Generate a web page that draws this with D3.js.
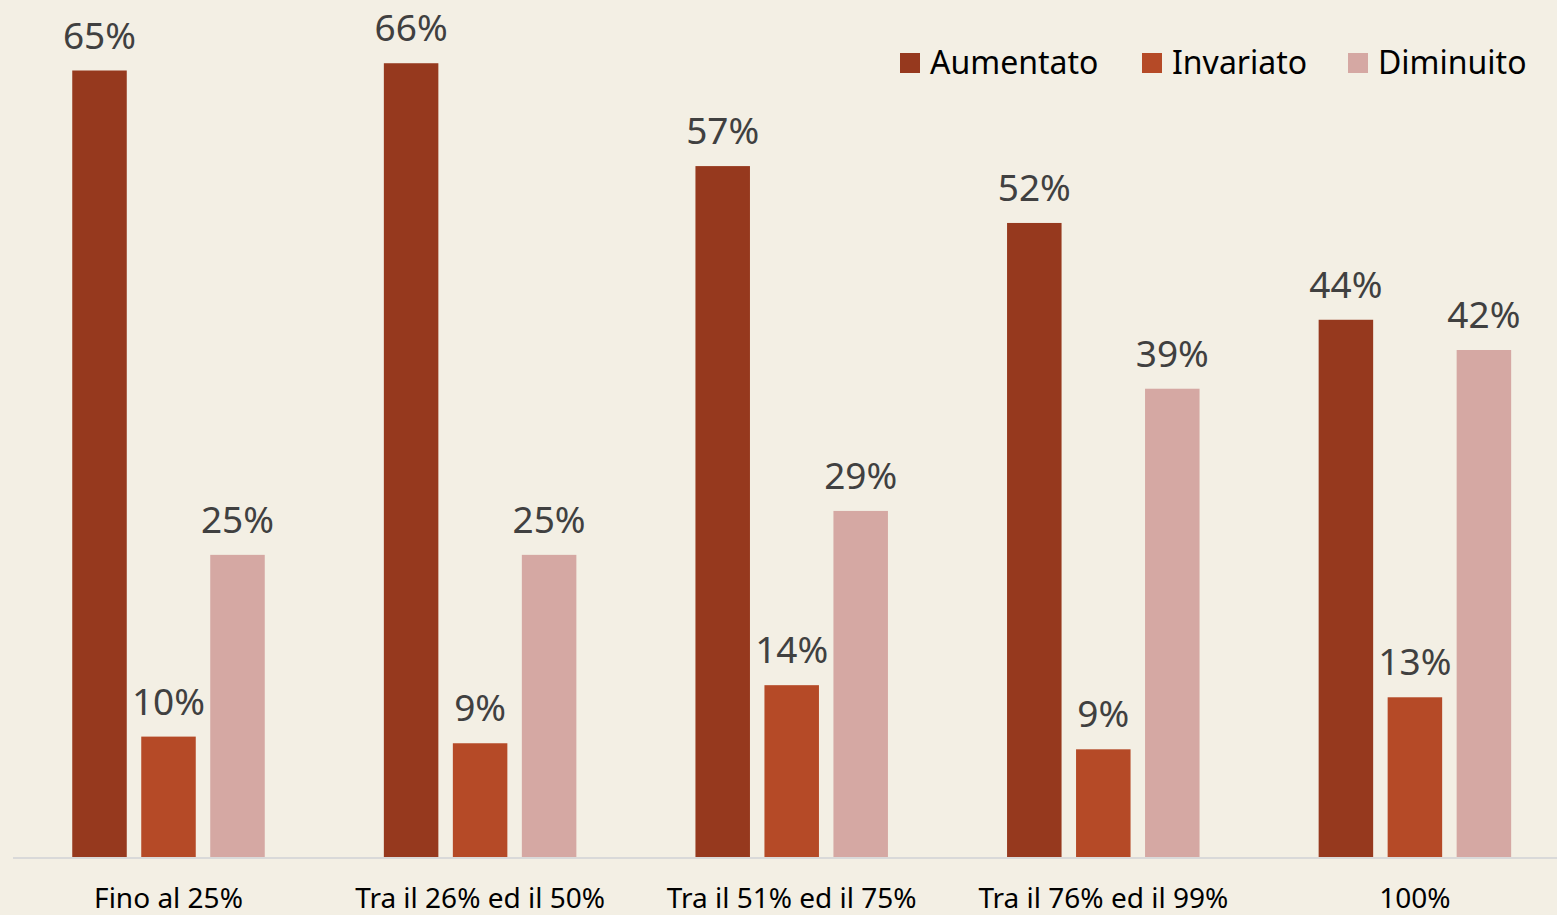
<!DOCTYPE html>
<html>
<head>
<meta charset="utf-8">
<script src="https://cdn.jsdelivr.net/npm/d3@7"></script>
<style>
  html, body { margin: 0; padding: 0; background: #f3efe4; }
  svg { display: block; font-family: "Noto Sans", sans-serif; }
</style>
</head>
<body>
<svg id="chart" width="1557" height="915"></svg>
<script>
let categories = ["Fino al 25%", "Tra il 26% ed il 50%", "Tra il 51% ed il 75%", "Tra il 76% ed il 99%", "100%"];
let seriesNames = ["Aumentato", "Invariato", "Diminuito"];
let colors = ["#96391e", "#b54a27", "#d5a8a3"];

let aumentato = [65.0, 65.6, 57.1, 52.4, 44.4];
let invariato = [9.95, 9.4, 14.2, 8.9, 13.2];
let diminuito = [24.97, 24.97, 28.6, 38.7, 41.9];

let seriesValues = [aumentato, invariato, diminuito];

function init() {
    const svg = d3.select("#chart");
    const baseY = 857;

    const x0 = d3.scaleBand().domain(categories).range([12.7, 1570.7]);
    const x1 = d3.scaleBand().domain(seriesNames).range([-96.25, 96.25]).paddingInner(0.21).paddingOuter(0);
    const y = d3.scaleLinear().domain([0, 70]).range([baseY, baseY - 70 * 12.1]);
    const color = d3.scaleOrdinal().domain(seriesNames).range(colors);

    let rows = [];
    categories.forEach((c, i) => {
        seriesNames.forEach((s, j) => {
            rows.push({cat: c, series: s, value: seriesValues[j][i]});
        });
    });

    const g = svg.append("g");

    g.selectAll("rect.bar")
        .data(rows)
        .enter()
        .append("rect")
        .attr("class", "bar")
        .attr("x", d => x0(d.cat) + x0.bandwidth() / 2 + x1(d.series))
        .attr("width", x1.bandwidth())
        .attr("y", d => y(d.value))
        .attr("height", d => baseY - y(d.value))
        .attr("fill", d => color(d.series));

    g.selectAll("text.val")
        .data(rows)
        .enter()
        .append("text")
        .attr("class", "val")
        .attr("x", d => x0(d.cat) + x0.bandwidth() / 2 + x1(d.series) + x1.bandwidth() / 2)
        .attr("y", d => y(d.value) - 22)
        .attr("text-anchor", "middle")
        .style("font-size", "37px")
        .style("fill", "#404040")
        .text(d => Math.round(d.value) + "%");

    // baseline
    svg.append("line")
        .attr("x1", 13).attr("x2", 1557)
        .attr("y1", baseY + 1).attr("y2", baseY + 1)
        .attr("stroke", "#d9d9d9")
        .attr("stroke-width", 2);

    // category labels
    const xAxis = d3.axisBottom(x0).tickSize(0).tickPadding(0);
    const axisG = svg.append("g")
        .attr("transform", "translate(0," + baseY + ")")
        .call(xAxis);
    axisG.select(".domain").remove();
    axisG.selectAll("text")
        .attr("y", 51)
        .attr("dy", null)
        .style("font-family", "\"Noto Sans\", sans-serif")
        .style("font-size", "28px")
        .style("fill", "#000");

    // legend
    const legendX = [900, 1142, 1348];
    const legend = svg.append("g");
    seriesNames.forEach((s, i) => {
        legend.append("rect")
            .attr("x", legendX[i]).attr("y", 53)
            .attr("width", 20).attr("height", 20)
            .attr("fill", color(s));
        legend.append("text")
            .attr("x", legendX[i] + 30).attr("y", 73.5)
            .style("font-size", "32px")
            .style("fill", "#000")
            .text(s);
    });
}

window.onload = function () {
    init();
};
</script>
</body>
</html>
